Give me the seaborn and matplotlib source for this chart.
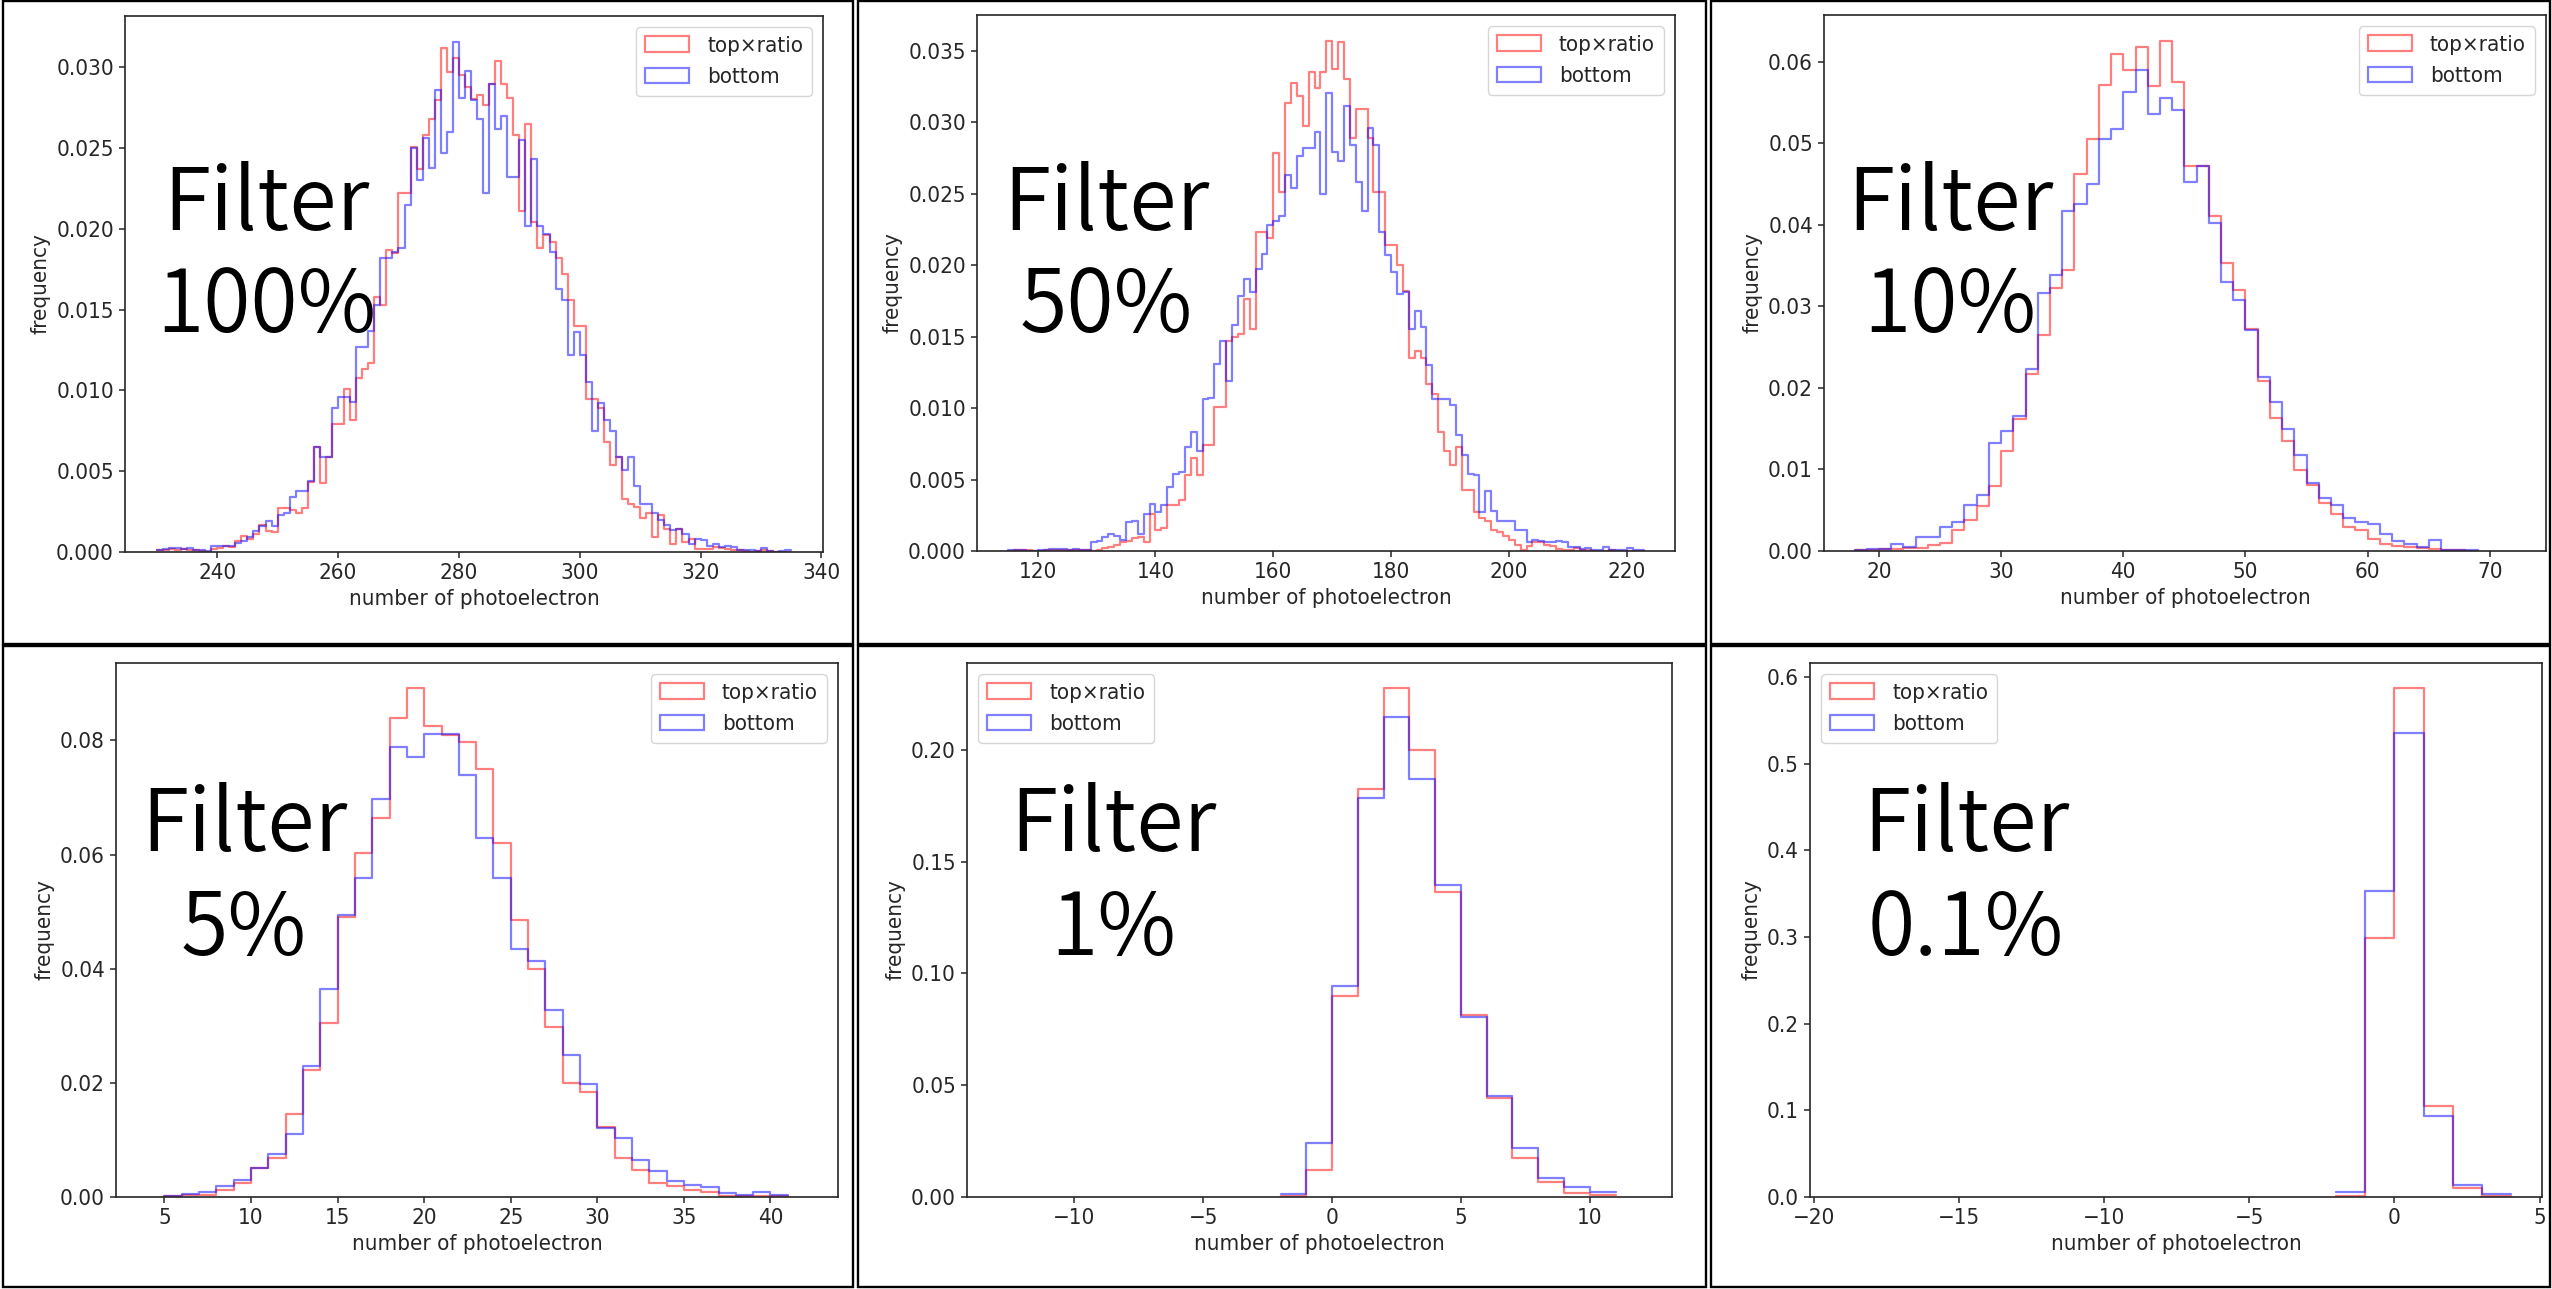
import numpy as np
import pandas as pd
import matplotlib
matplotlib.use("Agg")
import matplotlib.pyplot as plt
import matplotlib.patches as mpatches
import seaborn as sns

# ---------------- data (frequency values, in units of 1e-3) ----------------
# Filter 100 %  : bins of width 1 starting at 230
p1_start = 230
p1_top = [0.1, 0.15, 0.2, 0.15, 0.2, 0.1, 0.15, 0.05, 0.0, 0.2,
          0.25, 0.37, 0.3, 0.68, 1.0, 0.83, 1.14, 1.66, 1.28, 1.24,
          2.7, 2.7, 2.6, 2.4, 2.7, 4.35, 6.5, 4.3, 5.9, 7.9,
          7.9, 10.1, 8.2, 10.8, 11.3, 11.7, 15.8, 15.3, 18.7, 18.5,
          22.2, 22.2, 25.1, 23.7, 25.8, 26.8, 28.0, 31.2, 29.7, 30.6,
          29.5, 28.8, 28.05, 28.3, 27.7, 29.0, 30.4, 29.0, 28.1, 25.8,
          21.1, 26.5, 20.4, 18.8, 19.6, 19.2, 18.2, 17.2, 15.6, 14.0,
          14.0, 9.5, 9.5, 8.9, 6.8, 5.4, 5.9, 3.3, 3.0, 2.8,
          2.1, 2.4, 0.93, 2.3, 1.45, 0.52, 1.45, 0.62, 0.83, 0.2,
          0.2, 0.2, 0.3, 0.25, 0.2, 0.1, 0.1, 0.05, 0.0, 0.05,
          0.15, 0.05, 0.0, 0.0, 0.0]
p1_bottom = [0.15, 0.2, 0.25, 0.25, 0.2, 0.25, 0.1, 0.1, 0.05, 0.35,
             0.35, 0.35, 0.4, 0.55, 0.7, 0.9, 1.3, 1.6, 1.9, 1.6,
             2.3, 2.4, 3.4, 3.8, 3.8, 4.4, 6.5, 5.9, 5.9, 8.9,
             9.6, 9.6, 9.3, 12.7, 12.7, 13.7, 15.3, 18.2, 18.2, 18.6,
             18.8, 21.5, 25.0, 23.0, 25.6, 23.8, 28.6, 24.7, 26.0, 31.6,
             28.1, 29.8, 28.0, 26.8, 22.2, 29.0, 26.2, 27.0, 23.2, 23.2,
             25.5, 20.2, 24.3, 20.2, 19.7, 18.6, 16.3, 15.6, 12.2, 13.6,
             12.2, 10.5, 7.5, 9.2, 8.2, 7.5, 5.9, 5.1, 5.9, 4.1,
             3.0, 3.0, 2.4, 2.0, 1.7, 1.35, 1.45, 1.1, 0.5, 0.83,
             0.72, 0.4, 0.5, 0.3, 0.4, 0.3, 0.1, 0.1, 0.1, 0.05,
             0.25, 0.05, 0.0, 0.05, 0.1]

# Filter 50 %
p2_start = 115
p2_top = [0.0, 0.05, 0.1, 0.05, 0.0, 0.0, 0.05, 0.05, 0.1, 0.1,
          0.1, 0.1, 0.1, 0.05, 0.0, 0.1, 0.2, 0.3, 0.4, 0.6,
          0.7, 0.9, 1.0, 0.6, 2.6, 1.5, 1.6, 3.2, 3.2, 3.6,
          5.3, 6.5, 5.3, 7.4, 7.4, 10.1, 10.1, 14.7, 15.0, 15.2,
          17.6, 15.5, 22.3, 22.3, 21.9, 27.8, 25.1, 31.3, 32.7, 31.8,
          29.7, 33.5, 32.4, 33.5, 35.7, 33.7, 35.6, 33.0, 28.9, 30.9,
          30.9, 28.9, 25.1, 25.1, 21.4, 21.4, 20.0, 18.2, 13.5, 14.0,
          13.5, 11.7, 11.0, 8.3, 7.0, 6.0, 7.3, 4.3, 4.3, 2.7,
          2.3, 2.1, 1.5, 1.3, 1.05, 0.8, 0.45, 0.1, 0.35, 0.6,
          0.6, 0.45, 0.35, 0.12, 0.1, 0.05, 0.2, 0.05, 0.05, 0.0,
          0.0, 0.0, 0.05, 0.0, 0.0, 0.0, 0.0, 0.0]
p2_bottom = [0.05, 0.1, 0.05, 0.0, 0.0, 0.1, 0.1, 0.15, 0.15, 0.15,
             0.1, 0.15, 0.1, 0.05, 0.6, 0.7, 0.95, 1.2, 1.05, 0.8,
             2.0, 2.1, 1.2, 2.6, 3.3, 2.7, 3.2, 4.5, 5.4, 5.5,
             7.3, 8.3, 7.0, 10.6, 10.7, 13.1, 14.7, 11.9, 15.8, 17.8,
             19.0, 18.1, 19.7, 20.8, 22.8, 23.1, 23.4, 26.3, 25.4, 27.6,
             28.2, 28.2, 29.3, 25.0, 32.0, 27.9, 27.3, 31.1, 28.4, 25.8,
             23.8, 29.6, 28.4, 22.3, 20.7, 19.5, 18.0, 18.1, 15.5, 16.8,
             15.7, 13.0, 10.6, 10.6, 10.6, 10.2, 8.1, 6.7, 5.4, 5.3,
             2.7, 4.2, 2.8, 2.1, 2.1, 2.1, 1.5, 1.5, 0.6, 0.8,
             0.7, 0.6, 0.6, 0.7, 0.6, 0.25, 0.25, 0.15, 0.2, 0.1,
             0.1, 0.3, 0.1, 0.1, 0.05, 0.2, 0.1, 0.1]

# Filter 10 %
p3_start = 18
p3_top = [0.1, 0.15, 0.2, 0.3, 0.4, 0.4, 0.7, 1.0, 2.6, 3.8,
          5.5, 8.0, 12.3, 16.2, 21.7, 26.5, 32.3, 34.4, 46.2, 50.5,
          57.2, 61.0, 59.0, 61.8, 57.0, 62.6, 57.5, 47.2, 47.2, 41.1,
          35.3, 32.0, 27.2, 20.9, 16.3, 13.5, 9.9, 8.1, 5.9, 4.5,
          3.0, 2.6, 1.5, 0.9, 0.6, 0.5, 0.35, 0.2, 0.1, 0.1, 0.05]
p3_bottom = [0.15, 0.2, 0.2, 0.8, 0.5, 1.7, 1.7, 2.9, 3.5, 5.6,
             6.9, 13.2, 14.7, 16.5, 22.3, 31.6, 33.8, 41.7, 42.6, 45.0,
             50.5, 51.7, 56.3, 59.0, 53.6, 55.6, 54.1, 45.3, 47.2, 40.2,
             33.0, 30.8, 27.1, 21.3, 18.3, 15.0, 11.75, 8.4, 6.5, 5.7,
             4.1, 3.6, 3.3, 2.1, 1.2, 0.9, 0.5, 1.3, 0.15, 0.1, 0.1]

# Filter 5 %
p4_start = 5
p4_top = [0.1, 0.3, 0.3, 1.2, 2.4, 5.0, 6.8, 14.5, 22.2, 30.4,
          49.1, 60.2, 66.4, 83.9, 89.1, 82.6, 81.0, 79.7, 74.9, 62.0,
          48.6, 40.0, 29.7, 19.9, 18.4, 12.2, 6.8, 4.7, 2.4, 1.9,
          1.3, 0.9, 0.1, 0.1, 0.1, 0.1]
p4_bottom = [0.2, 0.5, 0.8, 1.9, 2.9, 5.0, 7.5, 11.0, 23.0, 36.5,
             49.4, 55.9, 69.8, 78.9, 77.1, 81.2, 81.2, 73.9, 62.9, 55.9,
             43.4, 41.3, 32.7, 24.9, 19.8, 12.1, 10.4, 6.5, 4.6, 2.8,
             2.1, 1.7, 0.7, 0.3, 0.8, 0.4]

# Filter 1 %
p5_start = -2
p5_top = [0.4, 12.0, 89.9, 182.4, 227.4, 200.0, 136.2, 81.4, 44.3, 17.6, 6.9, 1.9, 0.9]
p5_bottom = [1.3, 24.1, 94.3, 178.3, 214.5, 186.7, 139.4, 80.4, 45.2, 22.1, 8.7, 4.4, 2.2]

# Filter 0.1 %
p6_start = -2
p6_top = [1.0, 299.0, 587.0, 104.5, 10.5, 1.0]
p6_bottom = [5.7, 353.0, 535.0, 93.0, 14.3, 2.9]

filter_line1 = "Filter"
filter_labels = ["100%", "50%", "10%", "5%", "1%", "0.1%"]
series_labels = ["top×ratio", "bottom"]
x_label = "number of photoelectron"
y_label = "frequency"

panels = [
    (p1_start, p1_top, p1_bottom),
    (p2_start, p2_top, p2_bottom),
    (p3_start, p3_top, p3_bottom),
    (p4_start, p4_top, p4_bottom),
    (p5_start, p5_top, p5_bottom),
    (p6_start, p6_top, p6_bottom),
]

# ---------------- layout (pixel boxes in the 2552x1289 canvas) ----------------
W, H = 2552, 1289
axes_boxes = [  # x0, y0(top), x1, y1(bottom)
    (125, 16, 823, 552),
    (977, 15, 1675, 551),
    (1824, 15, 2546, 551),
    (116, 663, 838, 1197),
    (967, 663, 1672, 1197),
    (1810, 663, 2542, 1197),
]
frame_boxes = [
    (3, 1, 853, 644),
    (858, 1, 1706, 644),
    (1711, 1, 2550, 644),
    (3, 646, 853, 1287),
    (858, 646, 1706, 1287),
    (1711, 646, 2550, 1287),
]
xlims = [(224.75, 340.25), (109.7, 228.2), (15.5, 74.6),
         (2.2, 43.9), (-14.17, 13.19), (-20.13, 5.08)]
legend_locs = ["upper right", "upper right", "upper right",
               "upper right", "upper left", "upper left"]
text_pos = [  # center x, baseline of line1, baseline of line2
    (266, 230, 332), (1106, 230, 332), (1950, 230, 332),
    (244, 851, 955), (1113, 851, 955), (1966, 851, 955),
]

sns.set_style("ticks")
plt.rcParams["font.family"] = ["DejaVu Sans"]
plt.rcParams["font.stretch"] = "condensed"
plt.rcParams["font.size"] = 16
plt.rcParams["axes.edgecolor"] = "#262626"
plt.rcParams["axes.linewidth"] = 1.2
plt.rcParams["xtick.major.size"] = 4.5
plt.rcParams["ytick.major.size"] = 4.5
plt.rcParams["xtick.major.width"] = 1.1
plt.rcParams["ytick.major.width"] = 1.1
plt.rcParams["xtick.color"] = "#262626"
plt.rcParams["ytick.color"] = "#262626"
plt.rcParams["text.color"] = "#262626"
plt.rcParams["axes.labelcolor"] = "#262626"

fig = plt.figure(figsize=(W / 100, H / 100), dpi=100)
fig.patch.set_facecolor("white")

red = (1.0, 0.0, 0.0)
blue = (0.0, 0.0, 1.0)

for i, (start, top, bottom) in enumerate(panels):
    x0, y0, x1, y1 = axes_boxes[i]
    ax = fig.add_axes([x0 / W, 1 - y1 / H, (x1 - x0) / W, (y1 - y0) / H])
    top = np.asarray(top, dtype=float) * 1e-3
    bottom = np.asarray(bottom, dtype=float) * 1e-3
    n = len(top)
    centers = start + 0.5 + np.arange(n)
    for vals, col in [(top, red), (bottom, blue)]:
        df = pd.DataFrame({"pe": centers, "freq": vals})
        sns.histplot(data=df, x="pe", weights="freq", binwidth=1,
                     binrange=(start, start + n), element="step",
                     fill=False, color=col, alpha=0.5, linewidth=1.6, ax=ax)
    ax.set_xlim(*xlims[i])
    ax.set_ylim(0, 1.05 * max(top.max(), bottom.max()))
    ax.set_xlabel(x_label, fontsize=16)
    ax.set_ylabel(y_label, fontsize=16)
    ax.tick_params(labelsize=16)
    for s in ax.spines.values():
        s.set_visible(True)
    handles = [mpatches.Patch(facecolor="none", edgecolor=red, alpha=0.5, linewidth=1.6),
               mpatches.Patch(facecolor="none", edgecolor=blue, alpha=0.5, linewidth=1.6)]
    ax.legend(handles, series_labels, loc=legend_locs[i], fontsize=16,
              frameon=True, fancybox=True, edgecolor="0.8", framealpha=0.8)

    fx0, fy0, fx1, fy1 = frame_boxes[i]
    fig.add_artist(mpatches.Rectangle((fx0 / W, 1 - fy1 / H), (fx1 - fx0) / W, (fy1 - fy0) / H,
                                      transform=fig.transFigure, fill=False,
                                      edgecolor="black", linewidth=1.7))
    cx, b1, b2 = text_pos[i]
    fig.text(cx / W, 1 - b1 / H, filter_line1, ha="center", va="baseline",
             fontsize=62, fontweight=350, color="black",
             family=["Noto Sans CJK JP", "DejaVu Sans"])
    fig.text(cx / W, 1 - b2 / H, filter_labels[i], ha="center", va="baseline",
             fontsize=62, fontweight=350, color="black",
             family=["Noto Sans CJK JP", "DejaVu Sans"])

fig.savefig("out.png", dpi=100, facecolor="white")
